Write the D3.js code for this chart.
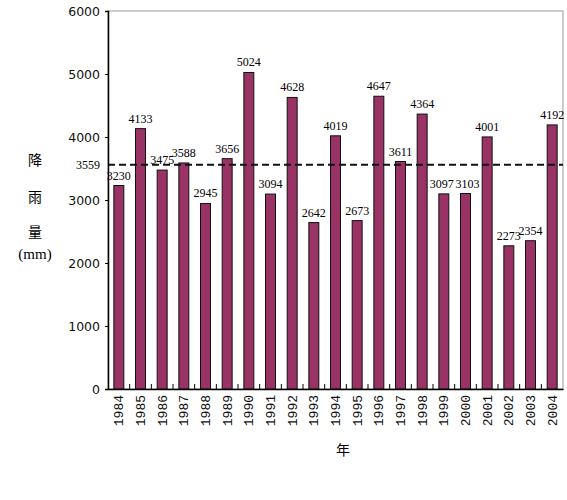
<!DOCTYPE html>
<html><head><meta charset="utf-8">
<script src="https://cdn.jsdelivr.net/npm/d3@7"></script>
<style>body{margin:0;background:#fff}</style>
</head><body>
<svg id="c" width="567" height="500"></svg>
<script>
const years = ["1984","1985","1986","1987","1988","1989","1990","1991","1992","1993","1994","1995","1996","1997","1998","1999","2000","2001","2002","2003","2004"];
const rainfall = [3230,4133,3475,3588,2945,3656,5024,3094,4628,2642,4019,2673,4647,3611,4364,3097,3103,4001,2273,2354,4192];
const yTicks = [0,1000,2000,3000,4000,5000,6000];
const meanValue = 3559;
const yLabelChars = ["降","雨","量","(mm)"];
const xTitle = "年";

const svg = d3.select("#c");
const L = 108, R = 563, T = 11, B = 389;
const x = d3.scaleBand().domain(years).range([L, R]).paddingInner(0.54).paddingOuter(0.27);
const xb = d3.scaleBand().domain(years).range([L, R]);
const y = d3.scaleLinear().domain([0, 6000]).range([B, T]);

// frame
svg.append("rect").attr("x", L).attr("y", T).attr("width", R - L).attr("height", B - T)
  .attr("fill", "none").attr("stroke", "#999").attr("stroke-width", 1);

// bars
svg.selectAll("rect.bar").data(rainfall).enter().append("rect")
  .attr("class", "bar")
  .attr("x", (d, i) => x(years[i]))
  .attr("y", d => y(d))
  .attr("width", x.bandwidth())
  .attr("height", d => B - y(d))
  .attr("fill", "#993366").attr("stroke", "#111").attr("stroke-width", 1);

// value labels, nudged apart when neighbours sit at nearly the same height
const nudge = rainfall.map((d, i) => {
  let n = 0;
  if (i > 0 && Math.abs(rainfall[i - 1] - d) < 80) n += 2;
  if (i < rainfall.length - 1 && Math.abs(rainfall[i + 1] - d) < 80) n -= 2;
  return n;
});
svg.selectAll("text.val").data(rainfall).enter().append("text")
  .attr("class", "val")
  .attr("x", (d, i) => x(years[i]) + x.bandwidth() / 2 + nudge[i])
  .attr("y", d => y(d) - 6)
  .attr("text-anchor", "middle")
  .attr("font-family", "Liberation Serif").attr("font-size", 12)
  .text(d => d);

// mean dashed line
svg.append("line").attr("x1", L).attr("x2", R).attr("y1", y(meanValue)).attr("y2", y(meanValue))
  .attr("stroke", "#111").attr("stroke-width", 2).attr("stroke-dasharray", "7,4");
svg.append("text").attr("x", 100).attr("y", y(meanValue) + 4)
  .attr("text-anchor", "end").attr("font-family", "Liberation Serif").attr("font-size", 12)
  .text(meanValue);

// y axis
const yAxis = svg.append("g").attr("transform", `translate(${L},0)`)
  .call(d3.axisLeft(y).tickValues(yTicks).tickSize(3).tickPadding(5).tickFormat(d3.format("d")));
yAxis.select(".domain").attr("stroke", "#000").attr("stroke-width", 1.5);
yAxis.selectAll("text").attr("font-family", "DejaVu Sans").attr("font-size", 12.5).attr("fill", "#111");

// x axis
const xAxis = svg.append("g").attr("transform", `translate(0,${B})`)
  .call(d3.axisBottom(xb).tickSize(0).tickPadding(6));
xAxis.select(".domain").attr("stroke", "#000").attr("stroke-width", 1.5);
xAxis.selectAll("text")
  .attr("font-family", "Liberation Mono").attr("font-size", 13).attr("fill", "#111")
  .attr("transform", "rotate(-90)")
  .attr("text-anchor", "end").attr("x", -6).attr("y", 0).attr("dy", "0.35em");
// inward band-boundary ticks
svg.selectAll("line.bt").data(years.slice(1)).enter().append("line")
  .attr("class", "bt")
  .attr("x1", d => xb(d)).attr("x2", d => xb(d))
  .attr("y1", B).attr("y2", B - 5).attr("stroke", "#000");

// y title
const yl = [160, 197, 232, 254];
yLabelChars.forEach((c, i) => {
  svg.append("text").attr("x", 35).attr("y", yl[i] + 5).attr("text-anchor", "middle")
    .attr("font-family", i < 3 ? "Noto Sans CJK TC" : "Liberation Serif").attr("font-size", i < 3 ? 14 : 15)
    .text(c);
});

// x title
svg.append("text").attr("x", 343).attr("y", 455).attr("text-anchor", "middle")
  .attr("font-family", "Noto Sans CJK TC").attr("font-size", 14).text(xTitle);
</script>
</body></html>
